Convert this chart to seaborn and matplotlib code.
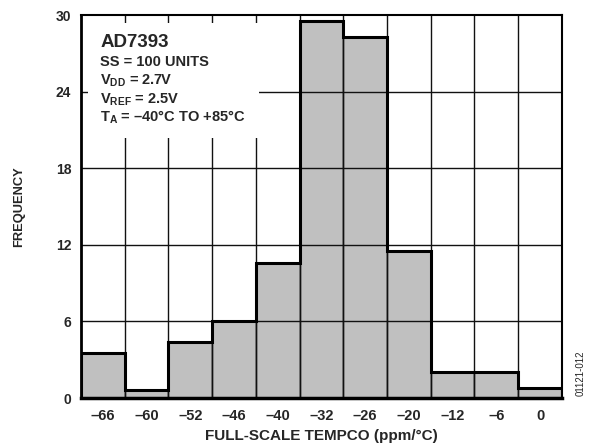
import numpy as np
import matplotlib
matplotlib.use('Agg')
import matplotlib.pyplot as plt
import seaborn as sns
from matplotlib.patches import Rectangle

# Histogram data
tempco_labels = ['–66', '–60', '–52', '–46', '–40', '–32', '–26', '–20', '–12', '–6', '0']
frequency = [3.5, 0.6, 4.4, 6.0, 10.6, 29.5, 28.3, 11.5, 2.0, 2.0, 0.8]
y_ticks = [0, 6, 12, 18, 24, 30]

sns.set_style('white')
plt.rcParams['font.family'] = ['Liberation Sans', 'DejaVu Sans']
plt.rcParams['font.weight'] = 'bold'
plt.rcParams['mathtext.fontset'] = 'custom'
plt.rcParams['mathtext.rm'] = 'Liberation Sans:bold'
plt.rcParams['mathtext.bf'] = 'Liberation Sans:bold'
plt.rcParams['mathtext.it'] = 'Liberation Sans:bold'

fig = plt.figure(figsize=(5.89, 4.47), dpi=100)
ax = fig.add_axes([0.1375, 0.1096, 0.8165, 0.8568])

sns.barplot(x=tempco_labels, y=frequency, color='#c0c0c0', saturation=1,
            width=1, edgecolor='#222222', linewidth=1.0, ax=ax, zorder=1)

# thick histogram outline
edges = np.arange(len(frequency) + 1) - 0.5
ax.stairs(frequency, edges, baseline=0, color='black', linewidth=2.2, zorder=3)

ax.set_xlim(-0.5, len(frequency) - 0.5)
ax.set_ylim(0, 30)
ax.set_yticks(y_ticks)

# grid: horizontal at y ticks, vertical at bin edges
ax.grid(False)
for y in y_ticks[1:-1]:
    ax.axhline(y, color='#111111', linewidth=1.0, zorder=2)
for x in edges[1:-1]:
    ax.axvline(x, color='#111111', linewidth=1.0, zorder=2)

for side in ['left', 'right', 'top', 'bottom']:
    ax.spines[side].set_color('black')
ax.spines['left'].set_linewidth(2.0)
ax.spines['bottom'].set_linewidth(2.5)
ax.spines['top'].set_linewidth(1.5)
ax.spines['right'].set_linewidth(1.5)
for s in ax.spines.values():
    s.set_zorder(4)

ax.tick_params(axis='x', which='both', length=0, labelsize=10.5, pad=8)
ax.tick_params(axis='y', length=4, width=1, color='black', labelsize=10, pad=3)
for lab in ax.get_xticklabels() + ax.get_yticklabels():
    lab.set_fontweight('bold')

ax.set_xlabel('FULL-SCALE TEMPCO (ppm/°C)', fontsize=11, fontweight='bold', labelpad=4)
ax.set_ylabel('FREQUENCY', fontsize=9.3, fontweight='bold', labelpad=22)

# white box behind the annotation
ax.add_patch(Rectangle((0.015, 0.68), 0.355, 0.3, transform=ax.transAxes,
                       facecolor='white', edgecolor='none', zorder=5))
tx = 0.04
ax.text(tx, 0.917, 'AD7393', transform=ax.transAxes, fontsize=13.5,
        fontweight='bold', va='baseline', zorder=6)
ax.text(tx, 0.867, 'SS = 100 UNITS', transform=ax.transAxes, fontsize=10.5,
        fontweight='bold', va='baseline', zorder=6)
ax.text(tx, 0.818, r'V$_{\mathregular{DD}}$ = 2.7V', transform=ax.transAxes,
        fontsize=10.5, fontweight='bold', va='baseline', zorder=6)
ax.text(tx, 0.770, r'V$_{\mathregular{REF}}$ = 2.5V', transform=ax.transAxes,
        fontsize=10.5, fontweight='bold', va='baseline', zorder=6)
ax.text(tx, 0.723, r'T$_{\mathregular{A}}$ = –40°C TO +85°C', transform=ax.transAxes,
        fontsize=10.5, fontweight='bold', va='baseline', zorder=6)

fig.text(0.985, 0.165, '01121-012', rotation=90, fontsize=7, fontweight='normal',
         ha='center', va='center')

fig.savefig('out.png', dpi=100)
